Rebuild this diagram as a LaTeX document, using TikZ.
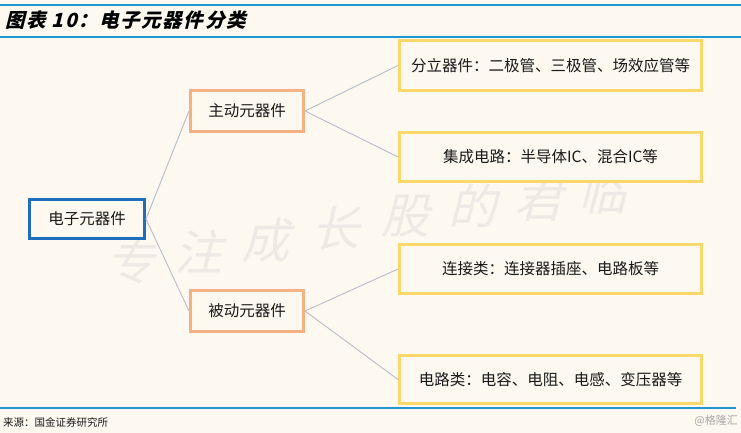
\documentclass[tikz,border=0pt]{standalone}
\usepackage{fontspec}
\newfontfamily\cjk{Noto Sans CJK SC}
\newfontfamily\cjkti{Noto Sans CJK SC}[FakeSlant=0.25]
\newfontfamily\cjktt{Noto Sans CJK SC}[FakeSlant=0.25,LetterSpace=8]
\definecolor{bgc}{RGB}{253,249,240}
\definecolor{rulec}{RGB}{30,150,210}
\definecolor{bluec}{RGB}{30,110,190}
\definecolor{orangec}{RGB}{244,177,131}
\definecolor{yellowc}{RGB}{252,215,105}
\definecolor{linec}{RGB}{185,188,200}
\definecolor{txtc}{RGB}{25,25,25}
\definecolor{wmc}{RGB}{237,234,229}
\tikzset{
  basebox/.style={line width=3pt, fill=bgc, inner sep=0pt, text=txtc,
    font=\cjk\fontsize{15.5}{17}\selectfont},
  mainbox/.style={basebox, draw=bluec, minimum width=115pt, minimum height=39pt},
  midbox/.style={basebox, draw=orangec, minimum width=113pt, minimum height=41pt},
  leafbox/.style={basebox, draw=yellowc, minimum width=302pt, minimum height=49pt},
  conn/.style={draw=linec, line width=0.9pt},
  rulel/.style={draw=rulec, line width=2.2pt},
  wm/.style={text=wmc, font=\cjkti\fontsize{48}{52}\selectfont, inner sep=0pt}
}
\begin{document}
\begin{tikzpicture}[x=1pt,y=-1pt]
\fill[bgc] (0,0) rectangle (741,433);
\useasboundingbox (0,0) rectangle (741,433);
% rules
\coordinate (t1a) at (0,5); \coordinate (t1b) at (741,5);
\coordinate (t2a) at (0,37); \coordinate (t2b) at (741,37);
\coordinate (b1a) at (0,408); \coordinate (b1b) at (736,408);
\draw[rulel] (t1a) -- (t1b);
\draw[rulel] (t2a) -- (t2b);
\draw[rulel] (b1a) -- (b1b);
% title
\node[anchor=west, inner sep=0pt, text=black, font=\cjktt\bfseries\fontsize{19.5}{21}\selectfont] (title) at (5,20) {图表 10：电子元器件分类};
% watermark
\node[wm] (w1) at (130,262) {专};
\node[wm] (w2) at (198,252) {注};
\node[wm] (w3) at (265,240) {成};
\node[wm] (w4) at (335,228) {长};
\node[wm] (w5) at (405,216) {股};
\node[wm] (w6) at (472,206) {的};
\node[wm] (w7) at (538,200) {君};
\node[wm] (w8) at (602,192) {临};
% nodes
\node[mainbox] (main) at (87,219) {电子元器件};
\node[midbox] (act) at (247,111) {主动元器件};
\node[midbox] (pas) at (247,311) {被动元器件};
\node[leafbox, minimum height=50pt] (l1) at (550.5,65.5) {分立器件：二极管、三极管、场效应管等};
\node[leafbox] (l2) at (550.5,157) {集成电路：半导体IC、混合IC等};
\node[leafbox] (l3) at (550.5,269) {连接类：连接器插座、电路板等};
\node[leafbox, minimum height=48pt] (l4) at (550.5,379.5) {电路类：电容、电阻、电感、变压器等};
% connectors
\draw[conn] (main.east) -- (act.west);
\draw[conn] (main.east) -- (pas.west);
\draw[conn] (act.east) -- (l1.west);
\draw[conn] (act.east) -- (l2.west);
\draw[conn] (pas.east) -- (l3.west);
\draw[conn] (pas.east) -- (l4.west);
% footer
\node[anchor=west, inner sep=0pt, text=txtc, font=\cjk\fontsize{10.5}{12}\selectfont] (src) at (3,422) {来源：国金证券研究所};
\node[anchor=east, inner sep=0pt, text=gray!70, font=\cjk\fontsize{11}{12}\selectfont] (wm2) at (738,421) {@格隆汇};
\end{tikzpicture}
\end{document}
